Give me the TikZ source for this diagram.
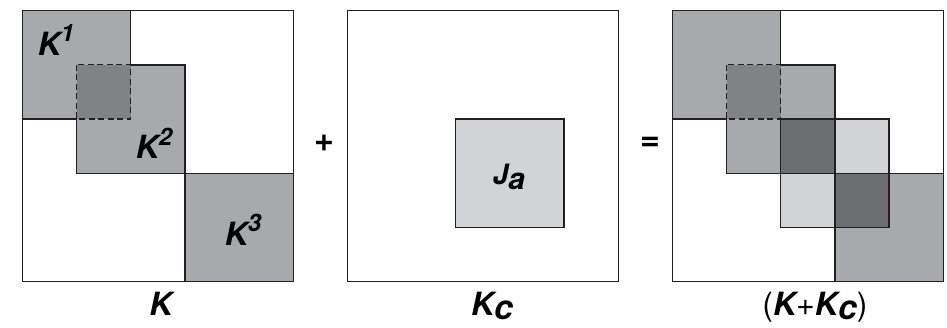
\documentclass[tikz,border=0pt]{standalone}
\usepackage{fontspec}
\setmainfont{TeX Gyre Heros}
\definecolor{gmed}{HTML}{A7A9AC}
\definecolor{gdark}{HTML}{808285}
\definecolor{gdeep}{HTML}{6D6E71}
\definecolor{glight}{HTML}{D1D3D4}
\definecolor{lin}{HTML}{231F20}
\begin{document}
\begin{tikzpicture}[x=1pt,y=-1pt,
  solidedge/.style={draw=lin,line width=1.5pt},
  dashededge/.style={draw=lin,line width=1.2pt,dash pattern=on 6pt off 3.5pt},
  lbl/.style={inner sep=0pt,font=\bfseries\itshape},
  opsym/.style={inner sep=0pt,font=\bfseries}]
\useasboundingbox (0,0) rectangle (947,328);
\fill[white] (0,0) rectangle (947,328);
% Panel 1 : K
\begin{scope}[shift={(22.3,10.7)},x=54.2pt,y=-54.2pt]
  \fill[gmed] (0,0) rectangle (2,2);
  \fill[gmed] (1,1) rectangle (3,3);
  \fill[gmed] (3,3) rectangle (5,5);
  \fill[gdark] (1,1) rectangle (2,2);
  \draw[solidedge] (0,0) rectangle (5,5);
  \draw[solidedge] (2,0) -- (2,1) (0,2) -- (1,2)
     (2,1) -- (3,1) -- (3,3) -- (1,3) -- (1,2) (3,3) -- (5,3) (3,3) -- (3,5);
  \draw[dashededge] (1,1) rectangle (2,2);
\end{scope}
% Panel 2 : Kc
\begin{scope}[shift={(347.3,10.7)},x=54.2pt,y=-54.2pt]
  \fill[glight] (2,2) rectangle (4,4);
  \draw[solidedge] (0,0) rectangle (5,5);
  \draw[solidedge] (2,2) rectangle (4,4);
\end{scope}
% Panel 3 : K+Kc
\begin{scope}[shift={(672.3,10.7)},x=54.2pt,y=-54.2pt]
  \fill[gmed] (0,0) rectangle (2,2);
  \fill[gmed] (1,1) rectangle (3,3);
  \fill[gmed] (3,3) rectangle (5,5);
  \fill[glight] (2,2) rectangle (4,4);
  \fill[gdark] (1,1) rectangle (2,2);
  \fill[gdeep] (2,2) rectangle (3,3);
  \fill[gdeep] (3,3) rectangle (4,4);
  \draw[solidedge] (0,0) rectangle (5,5);
  \draw[solidedge] (2,0) -- (2,1) (0,2) -- (1,2)
     (2,1) -- (3,1) -- (3,3) -- (1,3) -- (1,2) (3,3) -- (5,3) (3,3) -- (3,5);
  \draw[solidedge] (2,2) rectangle (4,4);
  \draw[dashededge] (1,1) rectangle (2,2);
\end{scope}
% labels
\node[lbl,anchor=base] (k1) at (56,56) {\fontsize{32}{32}\selectfont K\raisebox{14pt}{\fontsize{24}{24}\selectfont 1}};
\node[lbl,anchor=base] (k2) at (154,158.5) {\fontsize{32}{32}\selectfont K\raisebox{13pt}{\fontsize{24}{24}\selectfont 2}};
\node[lbl,anchor=base] (k3) at (243,245.5) {\fontsize{32}{32}\selectfont K\raisebox{14pt}{\fontsize{24}{24}\selectfont 3}};
\node[lbl,anchor=base] (ja) at (509,185) {\fontsize{28}{28}\selectfont J\raisebox{-5pt}{\fontsize{30}{30}\selectfont a}};
\node[lbl,anchor=base] (kl) at (161,316) {\fontsize{32}{32}\selectfont K};
\node[lbl,anchor=base] (kcl) at (492,316) {\fontsize{32}{32}\selectfont K\raisebox{-4pt}{\fontsize{34}{34}\selectfont c}};
\node[lbl,anchor=base] (ksl) at (815,316) {\fontsize{32}{32}\selectfont {\upshape\mdseries(}K{\upshape\mdseries+}K\raisebox{-4pt}{\fontsize{34}{34}\selectfont c}{\upshape\mdseries)}};
\node[opsym] (plus) at (324.3,143.7) {\fontsize{34}{34}\selectfont +};
\node[opsym] (eq) at (650,144) {\fontsize{34}{34}\selectfont =};
\end{tikzpicture}
\end{document}
